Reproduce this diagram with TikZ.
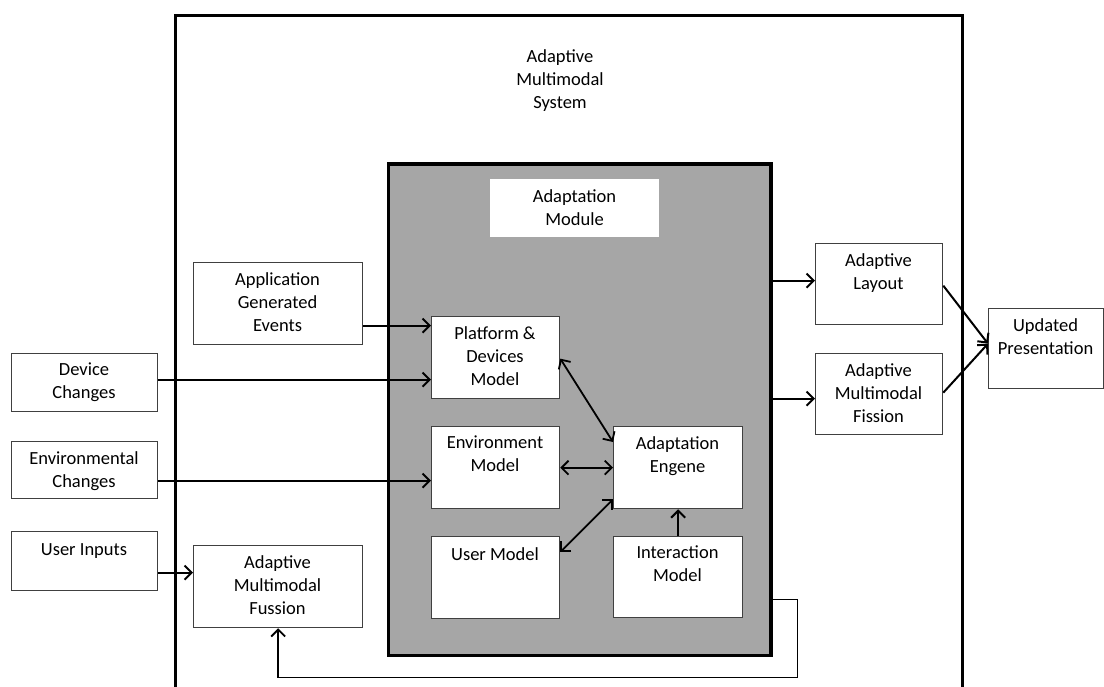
\documentclass[tikz,border=0pt]{standalone}
\usepackage{fontspec}
\setmainfont{Carlito}
\usetikzlibrary{arrows.meta}
\definecolor{modgray}{HTML}{A6A6A6}
\definecolor{boxline}{HTML}{404040}
\tikzset{
  box/.style={draw=boxline, line width=1.3pt, fill=white, rectangle, inner sep=0pt, anchor=north west},
  plainbox/.style={draw=none, fill=white, rectangle, inner sep=0pt, anchor=north west},
  modbox/.style={draw=black, line width=3.5pt, fill=modgray, rectangle, inner sep=0pt, anchor=north west},
  txt/.style={anchor=north, inner sep=0pt, align=center, font=\fontsize{18.5}{23}\selectfont, execute at begin node={\rule{0pt}{14pt}}},
  arr/.style={line width=2pt, -{Straight Barb[length=7pt,width=14pt,line width=2pt]}},
  darr/.style={line width=1.8pt, {Straight Barb[length=7pt,width=14pt,line width=1.8pt]}-{Straight Barb[length=7pt,width=14pt,line width=1.8pt]}},
  fb/.style={line width=1.8pt}
}
\newcommand\mkbox[7]{%
  \node[#1, minimum width={(#5-#3)*1pt}, minimum height={(#6-#4)*1pt}] (#2) at (#3,#4) {};
  \node[txt] (#2-t) at ({(#3+#5)/2},{#4+10}) {#7};
}
\begin{document}
\begin{tikzpicture}[x=1pt,y=-1pt]
\useasboundingbox (0,0) rectangle (1104,686);
% outer system box (open at bottom)
\draw[line width=3pt] (175,690) -- (175,15) -- (962,15) -- (962,690);
\node[txt] (title) at (560,49) {Adaptive\\Multimodal\\System};
% adaptation module
\node[modbox, minimum width=382.5pt, minimum height=491.5pt] (mod) at (386.5,162) {};
\mkbox{plainbox}{amod}{490}{179}{659}{237}{Adaptation\\Module}
\mkbox{box}{plat}{431}{316}{559}{398}{Platform \&\\Devices\\Model}
\mkbox{box}{envm}{431}{426}{559}{508}{Environment\\Model}
\mkbox{box}{usr}{431}{536}{559}{618}{User Model}
\mkbox{box}{eng}{613}{426}{742}{508}{Adaptation\\Engene}
\mkbox{box}{inter}{613}{536}{742}{617}{Interaction\\Model}
% left side
\mkbox{box}{app}{193}{262}{362}{344}{Application\\Generated\\Events}
\mkbox{box}{dev}{11}{353}{157}{411}{Device\\Changes}
\mkbox{box}{envc}{11}{441}{157}{498}{Environmental\\Changes}
\mkbox{box}{uin}{11}{531}{157}{590}{User Inputs}
\mkbox{box}{fus}{193}{545}{362}{627}{Adaptive\\Multimodal\\Fussion}
% right side
\mkbox{box}{lay}{815}{243}{942}{324}{Adaptive\\Layout}
\mkbox{box}{fis}{815}{353}{942}{434}{Adaptive\\Multimodal\\Fission}
\mkbox{box}{upd}{988}{308}{1103}{388}{Updated\\Presentation}
% connectors
\draw[arr] ([yshift=-22pt]app.east) -- ([yshift=-22pt]app.east -| plat.west);
\draw[arr] ([yshift=3pt]dev.east) -- ([yshift=3pt]dev.east -| plat.west);
\draw[arr] ([yshift=-10.5pt]envc.east) -- ([yshift=-10.5pt]envc.east -| envm.west);
\draw[arr] ([yshift=-11.5pt]uin.east) -- ([yshift=-11.5pt]uin.east -| fus.west);
\draw[darr] ([yshift=-1pt]plat.east) -- ([yshift=-16pt]eng.north west);
\draw[darr] (envm.east) -- (eng.west);
\draw[darr] ([yshift=-16pt]usr.north east) -- ([yshift=10pt]eng.south west);
\draw[arr] (inter.north) -- (eng.south);
\draw[arr] ([yshift=3.5pt]lay.west -| mod.east) -- ([yshift=3.5pt]lay.west);
\draw[arr] ([yshift=-4.5pt]fis.west -| mod.east) -- ([yshift=-4.5pt]fis.west);
\draw[arr] ([yshift=-1.5pt]lay.east) -- ([yshift=5pt]upd.west);
\draw[arr] ([yshift=1.5pt]fis.east) -- ([yshift=5pt]upd.west);
\draw[fb, -{Straight Barb[length=7pt,width=14pt,line width=1.8pt]}] ([yshift=-190pt]mod.east) -- ++(25,0) -- ++(0,78) -| (fus.south);
\end{tikzpicture}
\end{document}
